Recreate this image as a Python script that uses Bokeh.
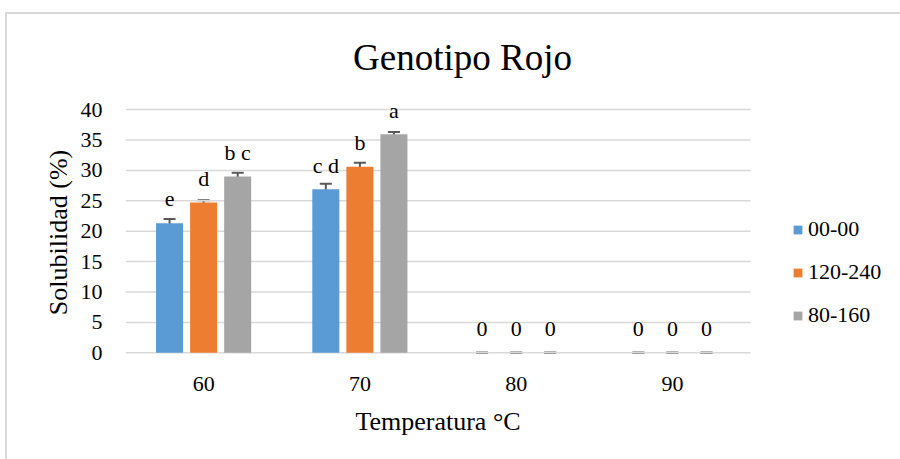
from bokeh.plotting import figure
from bokeh.models import (ColumnDataSource, Whisker, TeeHead, Legend, LegendItem,
                          Label, FixedTicker, Range1d)
from bokeh.core.properties import value
from bokeh.embed import file_html
from bokeh.resources import INLINE

# ---- data ----
categories = ["60", "70", "80", "90"]
series_names = ["00-00", "120-240", "80-160"]
vals_0000 = [21.3, 26.9, 0, 0]
vals_120240 = [24.7, 30.6, 0, 0]
vals_80160 = [29.0, 35.95, 0, 0]
err_0000 = [0.7, 0.9, 0, 0]
err_120240 = [0.4, 0.65, 0, 0]
err_80160 = [0.6, 0.35, 0, 0]
labels_0000 = ["e", "c d", "0", "0"]
labels_120240 = ["d", "b", "0", "0"]
labels_80160 = ["b c", "a", "0", "0"]
y_ticks = [0, 5, 10, 15, 20, 25, 30, 35, 40]
chart_title = "Genotipo Rojo"
x_title = "Temperatura °C"
y_title = "Solubilidad (%)"

colors = ["#5B9BD5", "#ED7D31", "#A5A5A5"]
FONT = "Liberation Serif"
BORDER = "#d9d9d9"

# frame: x 125..895 px, y 20..444 px ; 0 -> 352.3 px, 40 -> 109 px
p = figure(width=900, height=459, output_backend="svg", toolbar_location=None,
           x_range=Range1d(0.5, 5.428), y_range=Range1d(-15.08, 54.65),
           min_border_left=125, min_border_right=5,
           min_border_top=20, min_border_bottom=15)
p.outline_line_color = None
p.background_fill_color = "white"
p.border_fill_alpha = 0
p.styles = {
    "background": (f"linear-gradient({BORDER},{BORDER}) 5px 12px / 2px 100% no-repeat, "
                   f"linear-gradient({BORDER},{BORDER}) 5px 12px / 100% 2px no-repeat, white"),
}

# horizontal grid lines, spanning only the category area
n_cat = len(categories)
p.xgrid.grid_line_color = None
p.ygrid.grid_line_color = None
p.segment(x0=[0.5] * len(y_ticks), x1=[n_cat + 0.5] * len(y_ticks),
          y0=y_ticks, y1=y_ticks, line_color="#d9d9d9", line_width=1.5)

offsets = [-0.218, 0.0, 0.218]
bar_w = 0.173
all_vals = [vals_0000, vals_120240, vals_80160]
all_errs = [err_0000, err_120240, err_80160]
all_labels = [labels_0000, labels_120240, labels_80160]

items = []
for i, name in enumerate(series_names):
    xs = [k + 1 + offsets[i] for k in range(n_cat)]
    v = all_vals[i]
    e = all_errs[i]
    src = ColumnDataSource(dict(x=xs, top=v,
                                upper=[a + b for a, b in zip(v, e)],
                                lower=[a - b for a, b in zip(v, e)],
                                lab=all_labels[i]))
    r = p.vbar(x="x", top="top", width=bar_w, bottom=0, source=src,
               fill_color=colors[i], line_color=None)
    items.append(LegendItem(label=name, renderers=[r]))
    w = Whisker(base="x", upper="upper", lower="lower", source=src,
                line_color="#595959", line_width=2,
                upper_head=TeeHead(size=12, line_color="#595959", line_width=2),
                lower_head=TeeHead(size=12, line_color="#595959", line_width=2))
    p.add_layout(w)
    p.text(x="x", y="top", text="lab", source=src, text_align="center",
           text_baseline="middle", y_offset=-24, text_font=value(FONT),
           text_font_size="22px", text_color="#000000")

# category tick labels under the zero line
cat_src = ColumnDataSource(dict(x=[k + 1 for k in range(n_cat)], y=[0] * n_cat,
                                t=categories))
p.text(x="x", y="y", text="t", source=cat_src, text_align="center",
       text_baseline="middle", y_offset=31, text_font=value(FONT),
       text_font_size="22px", text_color="#000000")

# axes
p.xaxis.visible = False
p.yaxis.ticker = FixedTicker(ticks=y_ticks)
ax = p.yaxis
ax.axis_line_color = None
ax.major_tick_line_color = None
ax.minor_tick_line_color = None
ax.major_label_text_font = FONT
ax.major_label_text_font_size = "22px"
ax.major_label_text_color = "#000000"
ax.axis_label = y_title
ax.axis_label_text_font = FONT
ax.axis_label_text_font_size = "26px"
ax.axis_label_text_font_style = "normal"
ax.axis_label_text_color = "#000000"
ax.major_label_standoff = 17
ax.axis_label_standoff = 5

xlab = Label(x=(n_cat + 1) / 2, y=0, y_offset=-69, text=x_title,
             text_font=FONT, text_font_size="26px", text_align="center",
             text_baseline="middle", text_color="#000000")
p.add_layout(xlab)

title = Label(x=337, y=387, x_units="screen", y_units="screen",
              text=chart_title, text_font=FONT, text_font_size="37px",
              text_align="center", text_baseline="alphabetic", text_color="#000000")
p.add_layout(title)

legend = Legend(items=items, location=(667, 116), orientation="vertical",
                label_text_font=FONT, label_text_font_size="22px",
                label_text_color="#000000",
                glyph_width=11, glyph_height=11, label_standoff=5,
                label_height=22, spacing=17, padding=0, margin=0,
                border_line_color=None, background_fill_alpha=0)
p.add_layout(legend, "center")

open("out.html", "w").write(file_html(p, INLINE))
